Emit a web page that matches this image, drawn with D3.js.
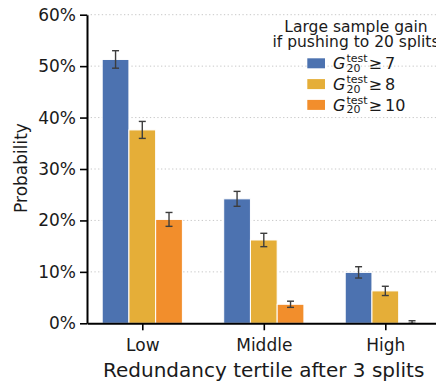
<!DOCTYPE html>
<html>
  <head>
    <meta charset="UTF-8">
    <style type="text/css">
      body { margin: 0; background: #fff; }
      text { font-family: 'DejaVu Sans', sans-serif; fill: #1a1a1a; }
    </style>
  </head>
  <body>
    <div id="canvas"></div>
    <script src="https://d3js.org/d3.v7.min.js"></script>
    <script type="text/javascript">
      // values (percent)
      var categories = ['Low', 'Middle', 'High'];
      var seriesNames = ['7', '8', '10'];
      var seriesColors = ['#4c72b0', '#e5ae38', '#f28e2c'];
      var gain7 = [51.3, 24.2, 9.9];
      var gain8 = [37.6, 16.2, 6.3];
      var gain10 = [20.2, 3.7, 0.2];
      var err7 = [1.7, 1.45, 1.1];
      var err8 = [1.65, 1.3, 0.9];
      var err10 = [1.35, 0.6, 0.3];
      var yTicks = [0, 10, 20, 30, 40, 50, 60];

      var width = 436, height = 385;
      var series = [gain7, gain8, gain10];
      var errs = [err7, err8, err10];

      var svg = d3.select('#canvas').append('svg')
        .attr('width', width)
        .attr('height', height);

      var x = d3.scaleLinear().domain([-0.455, 2.455]).range([87, 440.6]);
      var y = d3.scaleLinear().domain([0, 60]).range([323.3, 14.7]);
      var barW = 0.22;

      // dotted grid
      svg.append('g').selectAll('line')
        .data(yTicks.slice(1))
        .enter().append('line')
        .attr('x1', x(-0.455)).attr('x2', x(2.455))
        .attr('y1', function (d) { return y(d); })
        .attr('y2', function (d) { return y(d); })
        .style('stroke', '#c8c8c8')
        .style('stroke-width', 1)
        .style('stroke-dasharray', '1.3,2.4');

      // bars
      series.forEach(function (vals, s) {
        var off = (s - 1) * barW;
        svg.append('g').selectAll('rect')
          .data(vals)
          .enter().append('rect')
          .attr('x', function (d, i) { return x(i + off - barW / 2); })
          .attr('width', x(barW) - x(0))
          .attr('y', function (d) { return y(d); })
          .attr('height', function (d) { return y(0) - y(d); })
          .style('fill', seriesColors[s])
          .style('stroke', '#fff')
          .style('stroke-width', 1);
      });

      // error bars
      series.forEach(function (vals, s) {
        var off = (s - 1) * barW;
        var g = svg.append('g').style('stroke', '#3d3d3d').style('stroke-width', 1.4);
        vals.forEach(function (v, i) {
          var cx = x(i + off), lo = y(Math.max(0, v - errs[s][i])), hi = y(v + errs[s][i]);
          g.append('line').attr('x1', cx).attr('x2', cx).attr('y1', lo).attr('y2', hi);
          g.append('line').attr('x1', cx - 3.5).attr('x2', cx + 3.5).attr('y1', lo).attr('y2', lo);
          g.append('line').attr('x1', cx - 3.5).attr('x2', cx + 3.5).attr('y1', hi).attr('y2', hi);
        });
      });

      // axes
      var yAxis = svg.append('g')
        .attr('transform', 'translate(' + x(-0.455) + ',0)')
        .call(d3.axisLeft(y).tickValues(yTicks).tickFormat(function (d) { return d + '%'; })
          .tickSizeInner(7).tickSizeOuter(0).tickPadding(4));
      var xAxis = svg.append('g')
        .attr('transform', 'translate(0,' + y(0) + ')')
        .call(d3.axisBottom(x).tickValues([0, 1, 2]).tickFormat(function (d) { return categories[d]; })
          .tickSizeInner(7).tickSizeOuter(0).tickPadding(9));
      [yAxis, xAxis].forEach(function (a) {
        a.select('.domain').style('stroke', '#000').style('stroke-width', 2);
        a.selectAll('.tick line').style('stroke', '#000').style('stroke-width', 1.6);
        a.selectAll('.tick text').style('font-family', "'DejaVu Sans', sans-serif")
          .style('font-size', '17px').style('fill', '#1a1a1a');
      });

      svg.append('text')
        .attr('transform', 'translate(27,168) rotate(-90)')
        .attr('text-anchor', 'middle')
        .style('font-size', '17px')
        .text('Probability');

      svg.append('text')
        .attr('x', 263.7).attr('y', 377)
        .attr('text-anchor', 'middle')
        .style('font-size', '20px')
        .text('Redundancy tertile after 3 splits');

      // legend
      var leg = svg.append('g');
      leg.append('text').attr('x', 356).attr('y', 31.5).attr('text-anchor', 'middle')
        .style('font-size', '15.5px').text('Large sample gain');
      leg.append('text').attr('x', 356).attr('y', 47).attr('text-anchor', 'middle')
        .style('font-size', '15.5px').text('if pushing to 20 splits');
      seriesNames.forEach(function (nm, s) {
        var cy = 63.3 + s * 20.8;
        leg.append('rect').attr('x', 307.3).attr('y', cy - 5).attr('width', 17.7).attr('height', 10)
          .style('fill', seriesColors[s]);
        leg.append('text').attr('x', 333).attr('y', cy + 6)
          .style('font-size', '16px').style('font-style', 'italic').text('G');
        leg.append('text').attr('x', 346.5).attr('y', cy - 1)
          .style('font-size', '11px').text('test');
        leg.append('text').attr('x', 346.5).attr('y', cy + 8.5)
          .style('font-size', '11px').text('20');
        leg.append('text').attr('x', 368.5).attr('y', cy + 6)
          .style('font-size', '16px').text('\u2265' + '\u2009' + nm);
      });
    </script>
  </body>
</html>
